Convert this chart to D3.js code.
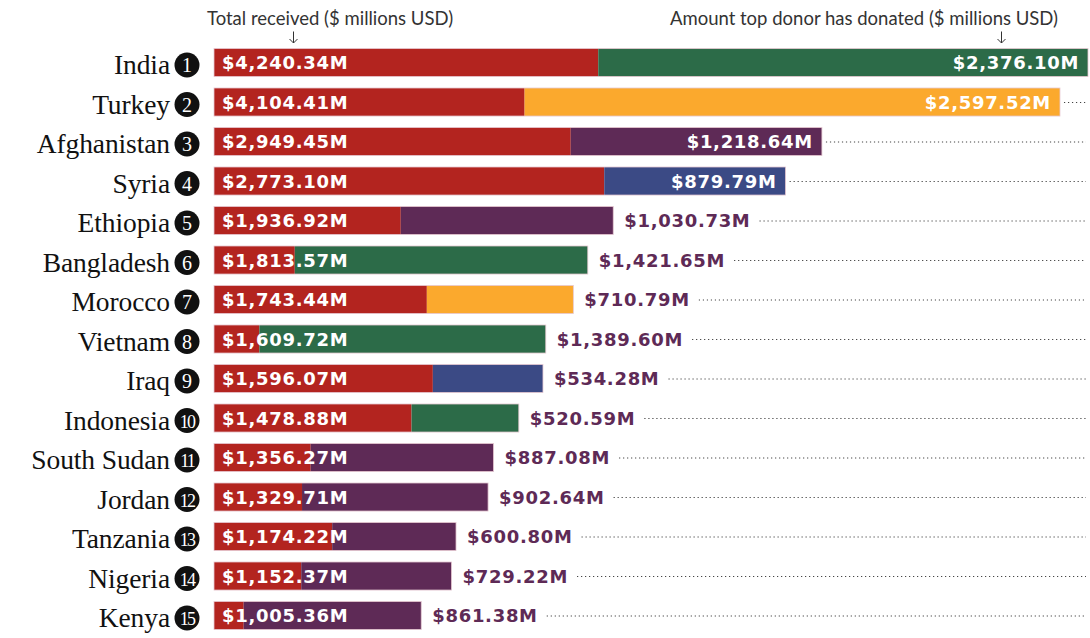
<!DOCTYPE html>
<html>
<head>
<meta charset="utf-8">
<script src="https://cdn.jsdelivr.net/npm/d3@7"></script>
<style>
  html, body { margin: 0; padding: 0; background: #fff; }
  svg { display: block; }
</style>
</head>
<body>
<svg id="chart" width="1090" height="638"></svg>
<script>
// ---- DATA ----
const countries = ["India","Turkey","Afghanistan","Syria","Ethiopia","Bangladesh","Morocco","Vietnam","Iraq","Indonesia","South Sudan","Jordan","Tanzania","Nigeria","Kenya"];
const totalReceived = [4240.34,4104.41,2949.45,2773.10,1936.92,1813.57,1743.44,1609.72,1596.07,1478.88,1356.27,1329.71,1174.22,1152.37,1005.36];
const topDonorAmount = [2376.10,2597.52,1218.64,879.79,1030.73,1421.65,710.79,1389.60,534.28,520.59,887.08,902.64,600.80,729.22,861.38];
const topDonor = ["Japan","EU Institutions","United States","Germany","United States","Japan","EU Institutions","Japan","Germany","Japan","United States","United States","United States","United States","United States"];
const donorNames = ["Japan","EU Institutions","United States","Germany"];
const donorColors = ["#2c6b48","#fba92d","#5e2a56","#3b4a85"];
const headerLeft = "Total received ($ millions USD)";
const headerRight = "Amount top donor has donated ($ millions USD)";
const insideLabelCount = 4;

const rows = countries.map((c,i)=>({country:c,rank:i+1,total:totalReceived[i],donor:topDonorAmount[i],donorName:topDonor[i]}));

const svg = d3.select("#chart");
const x = d3.scaleLinear().domain([0, d3.max(totalReceived)]).range([214, 1088]);
const y = d3.scaleBand().domain(countries).range([42.77, 635.27]).paddingInner(0.29).paddingOuter(0.145);
const color = d3.scaleOrdinal().domain(donorNames).range(donorColors);
const fmt = v => "$" + d3.format(",.2f")(v) + "M";
const RED = "#b3241f";
const valueFont = "'DejaVu Sans', sans-serif";
const VFS = 18, VLS = 0.7;

// headers
svg.append("text").attr("x",207).attr("y",24.5)
  .attr("font-family","Lato, 'Open Sans', sans-serif").attr("font-weight",400)
  .attr("font-size",18.5).attr("fill","#333").text(headerLeft);
svg.append("text").attr("x",1058).attr("y",24.5).attr("text-anchor","end")
  .attr("font-family","Lato, 'Open Sans', sans-serif").attr("font-weight",400)
  .attr("font-size",18.5).attr("fill","#333").text(headerRight);
function arrow(ax){
  const g = svg.append("g").attr("stroke","#333").attr("stroke-width",1).attr("fill","none");
  g.append("line").attr("x1",ax).attr("x2",ax).attr("y1",31.5).attr("y2",43);
  g.append("path").attr("d",`M${ax-4},${39} L${ax},${43} L${ax+4},${39}`);
}
arrow(293.5);
arrow(1001.5);

const row = svg.selectAll("g.row").data(rows).join("g").attr("class","row");

row.each(function(d){
  const g = d3.select(this);
  const top = y(d.country), h = y.bandwidth(), cy = top + h/2;
  const x0 = x(0), xEnd = x(d.total), xDon = x(d.total - d.donor);

  // country label
  g.append("text").attr("x",170).attr("y",cy+11.5).attr("text-anchor","end")
    .attr("font-family","'Liberation Serif', serif").attr("font-size",27.5)
    .attr("letter-spacing",-0.1).attr("fill","#111").text(d.country);
  // rank badge
  g.append("circle").attr("cx",187).attr("cy",cy+2.5).attr("r",12.5).attr("fill","#111");
  g.append("text").attr("x",187).attr("y",cy+9.5).attr("text-anchor","middle")
    .attr("font-family","'Liberation Serif', serif").attr("font-size",d.rank>9?18:20)
    .attr("letter-spacing",d.rank>9?-1.8:0).attr("fill","#fff").text(d.rank);

  // bars
  g.append("rect").attr("x",x0).attr("y",top).attr("width",xDon-x0).attr("height",h).attr("fill",RED);
  g.append("rect").attr("x",xDon).attr("y",top).attr("width",xEnd-xDon).attr("height",h).attr("fill",color(d.donorName));
  g.append("rect").attr("x",x0).attr("y",top).attr("width",xEnd-x0).attr("height",h)
    .attr("fill","none").attr("stroke","#e6c9d2").attr("stroke-width",0.8);

  // total label
  g.append("text").attr("x",x0+8).attr("y",cy+6.8)
    .attr("font-family",valueFont).attr("font-weight","bold").attr("font-size",VFS)
    .attr("letter-spacing",VLS).attr("fill","#fff").text(fmt(d.total));

  // donor label
  const inside = d.rank <= insideLabelCount;
  const lab = g.append("text")
    .attr("font-family",valueFont).attr("font-weight","bold").attr("font-size",VFS)
    .attr("letter-spacing",VLS).attr("y",cy+6.8).text(fmt(d.donor));
  let dotStart;
  if (inside) {
    lab.attr("x",xEnd-9).attr("text-anchor","end").attr("fill","#fff");
    dotStart = xEnd + 4;
  } else {
    lab.attr("x",xEnd+11).attr("fill","#5e2a56");
    dotStart = xEnd + 11 + lab.node().getComputedTextLength() + 9;
  }
  const dotEnd = 1086;
  if (dotEnd - dotStart > 6) {
    g.append("line").attr("x1",dotStart).attr("x2",dotEnd).attr("y1",cy+0.5).attr("y2",cy+0.5)
      .attr("stroke","#444").attr("stroke-width",1.2).attr("stroke-dasharray","1.2 2.8");
  }
});
</script>
</body>
</html>
